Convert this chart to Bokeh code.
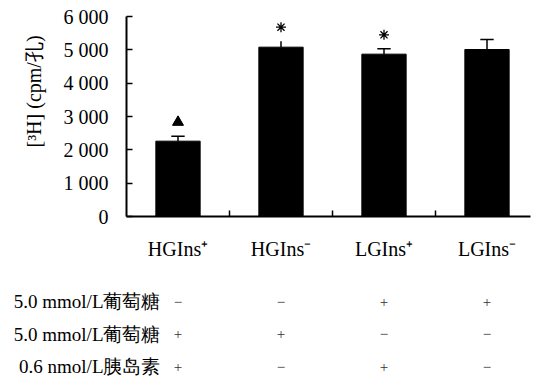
from bokeh.plotting import figure
from bokeh.models import Range1d, FixedTicker
from bokeh.layouts import column
from bokeh.core.properties import value
from bokeh.embed import file_html
from bokeh.resources import INLINE

# ---- data ----
categories = ["HGIns\u207a", "HGIns\u207b", "LGIns\u207a", "LGIns\u207b"]
means = [2260, 5080, 4870, 5010]
err_top = [2410, 5260, 5030, 5310]
has_cap = [True, False, True, True]
sig_marker = ["triangle", "asterisk", "asterisk", None]
y_ticks = [0, 1000, 2000, 3000, 4000, 5000, 6000]
y_tick_labels = ["0", "1 000", "2 000", "3 000", "4 000", "5 000", "6 000"]
row_labels = ["5.0 mmol/L\u8461\u8404\u7cd6", "5.0 mmol/L\u8461\u8404\u7cd6", "0.6 nmol/L\u80f0\u5c9b\u7d20"]
row_signs = [["\u2212", "\u2212", "+", "+"],
             ["+", "+", "\u2212", "\u2212"],
             ["+", "\u2212", "+", "\u2212"]]
y_title = "[\u00b3H] (cpm/\u5b54)"

FONT = "Liberation Serif"
xs = list(range(1, len(categories) + 1))

# ---- top chart ----
p = figure(width=538, height=262, output_backend="svg", toolbar_location=None,
           x_range=Range1d(0.5, 4.4223), y_range=Range1d(0, 6000),
           min_border_left=126, min_border_right=8, min_border_top=16, min_border_bottom=46)
p.frame_align = False
p.outline_line_color = None
p.grid.grid_line_color = None

p.vbar(x=xs, top=means, width=0.43, fill_color="black", line_color="black")

# error bars
p.segment(x0=xs, x1=xs, y0=means, y1=err_top, line_color="black", line_width=1.5)
cap_hw = 0.065
cx = [x for x, c in zip(xs, has_cap) if c]
cy = [e for e, c in zip(err_top, has_cap) if c]
p.segment(x0=[x - cap_hw for x in cx], x1=[x + cap_hw for x in cx], y0=cy, y1=cy,
          line_color="black", line_width=1.5)

# significance markers
off = 420
tri_x = [x for x, m in zip(xs, sig_marker) if m == "triangle"]
tri_y = [e + off for e, m in zip(err_top, sig_marker) if m == "triangle"]
p.scatter(x=tri_x, y=tri_y, marker="triangle", size=11, fill_color="black", line_color="black")
ast_x = [x for x, m in zip(xs, sig_marker) if m == "asterisk"]
ast_y = [e + off for e, m in zip(err_top, sig_marker) if m == "asterisk"]
p.scatter(x=ast_x, y=ast_y, marker="asterisk", size=10, line_color="black", line_width=1.3)

# axes
p.yaxis.ticker = FixedTicker(ticks=y_ticks)
p.yaxis.major_label_overrides = {t: l for t, l in zip(y_ticks, y_tick_labels)}
p.yaxis.major_tick_in = 6
p.yaxis.major_tick_out = 0
p.yaxis.minor_tick_line_color = None
p.yaxis.axis_line_width = 2
p.yaxis.major_tick_line_width = 1.5
p.yaxis.major_label_standoff = 18
p.yaxis.major_label_text_font = FONT
p.yaxis.major_label_text_font_size = "20px"
p.yaxis.major_label_text_color = "black"
# leading em/en spaces lift the centred title towards the upper part of the axis
p.yaxis.axis_label = "\u2003\u2003\u2002" + y_title
p.yaxis.axis_label_text_font = FONT
p.yaxis.axis_label_text_font_size = "20px"
p.yaxis.axis_label_text_font_style = "normal"
p.yaxis.axis_label_text_color = "black"
p.yaxis.axis_label_standoff = 16

p.xaxis.ticker = FixedTicker(ticks=xs, minor_ticks=[x + 0.5 for x in xs[:-1]])
p.xaxis.major_label_overrides = {x: c for x, c in zip(xs, categories)}
p.xaxis.major_tick_in = 0
p.xaxis.major_tick_out = 0
p.xaxis.minor_tick_in = 6
p.xaxis.minor_tick_out = 0
p.xaxis.minor_tick_line_width = 1.5
p.xaxis.axis_line_width = 2
p.xaxis.major_label_standoff = 21
p.xaxis.major_label_text_font = FONT
p.xaxis.major_label_text_font_size = "20px"
p.xaxis.major_label_text_color = "black"

# ---- condition table ----
t = figure(width=538, height=117, output_backend="svg", toolbar_location=None,
           x_range=Range1d(-0.7233, 4.5), y_range=Range1d(-2.4, 1.2),
           x_axis_location=None, y_axis_location=None, min_border=0)
t.frame_align = False
t.min_border_left = 0
t.min_border_right = 0
t.min_border_top = 0
t.min_border_bottom = 0
t.outline_line_color = None
t.grid.grid_line_color = None

label_x = 0.83
ry = [-i for i in range(len(row_labels))]
t.text(x=[label_x] * len(row_labels), y=ry, text=row_labels, text_align="right",
       text_baseline="middle", text_font=value(FONT), text_font_size="19px", text_color="black")

sx, sy, st = [], [], []
for i, row in enumerate(row_signs):
    for x, s in zip(xs, row):
        sx.append(x)
        sy.append(ry[i])
        st.append(s)
t.text(x=sx, y=sy, text=st, text_align="center", text_baseline="middle",
       text_font=value(FONT), text_font_size="15px", text_color="#333333")

layout = column(p, t, spacing=0)
open("out.html", "w").write(file_html(layout, INLINE))
